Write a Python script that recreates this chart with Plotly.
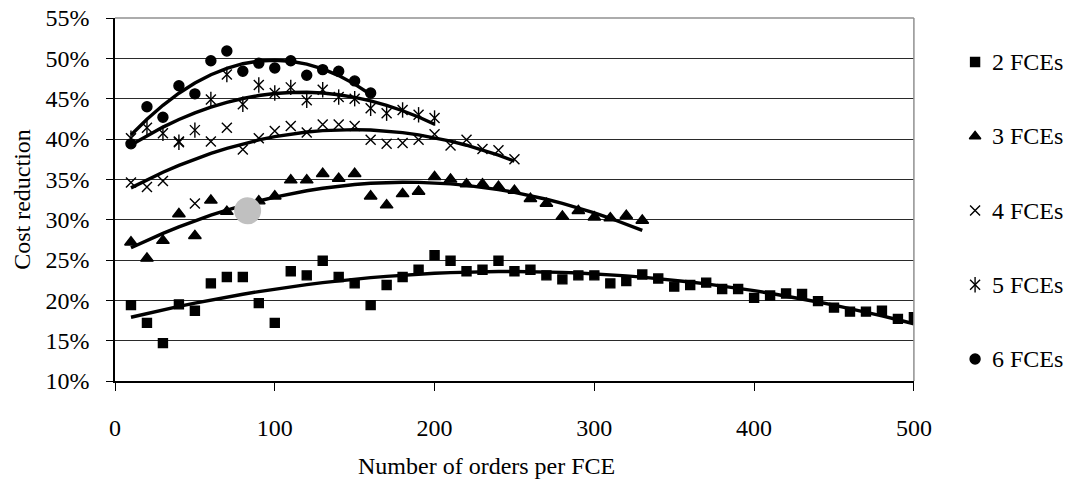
import numpy as np
import plotly.graph_objects as go

# Orders per FCE (x) and cost reduction in % (y) for each number of FCEs
x_2 = list(range(10, 501, 10))
y_2 = [19.4, 17.2, 14.7, 19.5, 18.7, 22.1, 22.9, 22.9, 19.65, 17.2,
       23.6, 23.1, 24.9, 22.9, 22.1, 19.4, 21.9, 22.9, 23.8, 25.6,
       24.9, 23.6, 23.8, 24.9, 23.6, 23.8, 23.1, 22.6, 23.1, 23.1,
       22.1, 22.4, 23.2, 22.7, 21.7, 21.9, 22.2, 21.4, 21.4, 20.3,
       20.6, 20.85, 20.8, 19.9, 19.1, 18.6, 18.6, 18.7, 17.7, 17.9]

x_3 = list(range(10, 331, 10))
y_3 = [27.2, 25.2, 27.4, 30.7, 28.0, 32.4, 31.0, 31.3, 32.3, 32.9,
       34.9, 34.9, 35.7, 35.1, 35.7, 32.9, 31.8, 33.2, 33.5, 35.3,
       35.0, 34.4, 34.4, 34.1, 33.6, 32.6, 32.0, 30.4, 31.1, 30.3,
       30.2, 30.5, 29.9]

x_4 = list(range(10, 251, 10))
y_4 = [34.6, 34.05, 34.8, 39.7, 32.0, 39.7, 41.4, 38.7, 40.1, 41.0,
       41.6, 40.8, 41.8, 41.8, 41.6, 39.9, 39.4, 39.5, 39.9, 40.6,
       39.2, 39.9, 38.75, 38.6, 37.5]

x_5 = list(range(10, 201, 10))
y_5 = [40.1, 41.4, 40.7, 39.6, 41.1, 44.9, 48.0, 44.3, 46.7, 45.7,
       46.4, 44.8, 46.1, 45.2, 45.0, 43.8, 43.2, 43.6, 43.0, 42.6]

x_6 = list(range(10, 161, 10))
y_6 = [39.4, 44.0, 42.7, 46.6, 45.6, 49.7, 50.9, 48.4, 49.4, 48.8,
       49.7, 47.9, 48.6, 48.4, 47.2, 45.7]

# Highlight marker placed on the 3-FCE series
highlight_x = [83]
highlight_y = [31.1]

series_names = ["2 FCEs", "3 FCEs", "4 FCEs", "5 FCEs", "6 FCEs"]
x_ticks = [0, 100, 200, 300, 400, 500]
y_ticks = [10, 15, 20, 25, 30, 35, 40, 45, 50, 55]
y_tick_text = [f"{v}%" for v in y_ticks]

FONT = "Liberation Serif, Times New Roman, serif"
INK = "black"

series = [(x_2, y_2), (x_3, y_3), (x_4, y_4), (x_5, y_5), (x_6, y_6)]
symbols = ["square", "triangle-up", "x-thin-open", "x-thin-open", "circle"]
sizes = [9, 11, 10, 10, 10]

fig = go.Figure()

# data markers
for (xs, ys), sym, sz in zip(series, symbols, sizes):
    fig.add_trace(go.Scatter(
        x=xs, y=ys, mode="markers", showlegend=False,
        marker=dict(symbol=sym, size=sz, color=INK,
                    line=dict(color=INK, width=1.4)),
    ))
# vertical stroke completing the star marker of the 5-FCE series
fig.add_trace(go.Scatter(
    x=x_5, y=y_5, mode="markers", showlegend=False,
    marker=dict(symbol="line-ns-open", size=11, color=INK,
                line=dict(color=INK, width=1.4)),
))

# polynomial (2nd order) trend lines
for xs, ys in series:
    coef = np.polyfit(xs, ys, 2)
    fig.add_trace(go.Scatter(
        x=xs, y=np.polyval(coef, xs), mode="lines", showlegend=False,
        line=dict(color=INK, width=3.4),
    ))

fig.add_trace(go.Scatter(
    x=highlight_x, y=highlight_y, mode="markers", showlegend=False,
    marker=dict(symbol="circle", size=27, color="#c0c0c0"),
))

# legend drawn on a helper axis pair to the right of the plot
rows = list(range(len(series_names)))
leg_x = 0.35
for r, sym, sz in zip(rows, symbols, [9, 10, 10, 10, 10]):
    fig.add_trace(go.Scatter(
        x=[leg_x], y=[r], xaxis="x2", yaxis="y2", mode="markers",
        showlegend=False,
        marker=dict(symbol=sym, size=sz, color=INK,
                    line=dict(color=INK, width=1.4)),
    ))
fig.add_trace(go.Scatter(
    x=[leg_x], y=[3], xaxis="x2", yaxis="y2", mode="markers",
    showlegend=False,
    marker=dict(symbol="line-ns-open", size=11, color=INK,
                line=dict(color=INK, width=1.4)),
))
for r, name in zip(rows, series_names):
    fig.add_annotation(x=0.455, y=r, xref="x2", yref="y2", text=name,
                       showarrow=False, xanchor="left", yanchor="middle",
                       font=dict(family=FONT, size=24, color=INK))

# plot-area frame (top and right edges)
fig.add_shape(type="line", xref="x domain", yref="y domain",
              x0=0, x1=1, y0=1, y1=1, line=dict(color="#909090", width=1.5))
fig.add_shape(type="line", xref="x domain", yref="y domain",
              x0=1, x1=1, y0=0, y1=1, line=dict(color="#909090", width=1.5))

fig.add_annotation(text="Number of orders per FCE", xref="paper", yref="paper",
                   x=0.3893, y=-0.234, showarrow=False,
                   xanchor="center", yanchor="middle",
                   font=dict(family=FONT, size=24, color=INK))

fig.update_layout(
    width=1086, height=482,
    margin=dict(l=115, r=0, t=18, b=101),
    paper_bgcolor="white", plot_bgcolor="white",
    font=dict(family=FONT, size=24, color=INK),
    xaxis=dict(domain=[0, 0.8383], range=[0, 500], tickvals=x_ticks,
               showgrid=False, zeroline=False, showline=True,
               linecolor=INK, linewidth=1.5, ticks="outside", ticklen=8,
               tickcolor=INK, tickwidth=1, ticklabelstandoff=16,
               tickfont=dict(family=FONT, size=24, color=INK)),
    yaxis=dict(range=[10, 55], tickvals=y_ticks, ticktext=y_tick_text,
               showgrid=True, gridcolor="#2a2a2a", gridwidth=1,
               zeroline=False, showline=True, linecolor=INK, linewidth=1.5,
               ticks="outside", ticklen=7, tickcolor=INK, tickwidth=1,
               ticklabelstandoff=12,
               tickfont=dict(family=FONT, size=24, color=INK),
               title=dict(text="Cost reduction", standoff=8,
                          font=dict(family=FONT, size=24, color=INK))),
    xaxis2=dict(domain=[0.85, 1], range=[0, 1], visible=False,
                anchor="y2", fixedrange=True),
    yaxis2=dict(domain=[0, 1], range=[4.296, -0.593], visible=False,
                anchor="x2", fixedrange=True),
)

fig.write_html("out.html")
